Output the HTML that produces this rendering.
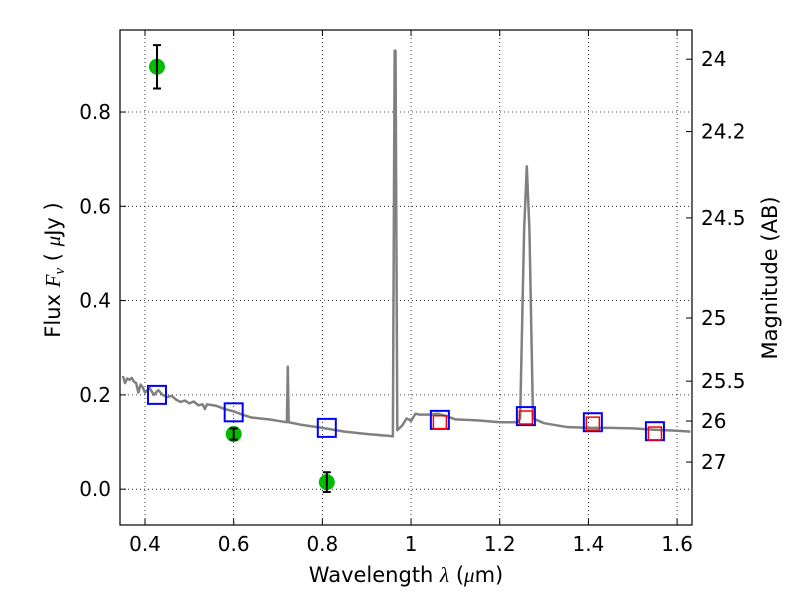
<!DOCTYPE html>
<html><head><meta charset="utf-8"><style>body{margin:0;background:#fff}svg{display:block}text{font-family:"DejaVu Sans","Liberation Sans",sans-serif;fill:#000}</style></head>
<body>
<svg id="chart" width="800" height="600"></svg>
<script>
const specWave=[0.35,0.355,0.36,0.365,0.37,0.375,0.38,0.385,0.39,0.395,0.40,0.405,0.41,0.42,0.43,0.44,0.45,0.46,0.47,0.48,0.49,0.50,0.51,0.52,0.53,0.535,0.54,0.56,0.58,0.60,0.62,0.64,0.66,0.68,0.70,0.72,0.722,0.724,0.75,0.80,0.85,0.90,0.95,0.959,0.963,0.965,0.969,0.98,0.99,1.0,1.01,1.02,1.04,1.06,1.08,1.10,1.15,1.20,1.24,1.246,1.255,1.261,1.267,1.275,1.30,1.35,1.40,1.45,1.50,1.55,1.60,1.63];
const specFlux=[0.240,0.225,0.235,0.232,0.236,0.228,0.225,0.205,0.222,0.216,0.205,0.21,0.215,0.20,0.21,0.20,0.195,0.198,0.19,0.185,0.188,0.182,0.186,0.178,0.18,0.17,0.18,0.177,0.17,0.165,0.158,0.152,0.15,0.148,0.145,0.142,0.26,0.142,0.137,0.13,0.122,0.117,0.113,0.112,0.93,0.93,0.125,0.135,0.15,0.145,0.16,0.158,0.158,0.16,0.155,0.148,0.146,0.142,0.142,0.15,0.55,0.685,0.55,0.15,0.14,0.132,0.13,0.13,0.129,0.126,0.124,0.122];
const modelWave=[0.427,0.6,0.81,1.065,1.259,1.41,1.55];
const modelFlux=[0.2,0.163,0.13,0.147,0.155,0.142,0.123];
const synthWave=[1.065,1.259,1.41,1.55];
const synthFlux=[0.142,0.152,0.139,0.118];
const obsWave=[0.427,0.6,0.81];
const obsFlux=[0.896,0.117,0.015];
const obsErr=[0.046,0.012,0.021];
const xTicks=[0.4,0.6,0.8,1.0,1.2,1.4,1.6];
const xTickLabels=["0.4","0.6","0.8","1","1.2","1.4","1.6"];
const yTicks=[0,0.2,0.4,0.6,0.8];
const yTickLabels=["0.0","0.2","0.4","0.6","0.8"];
const magTicks=[24,24.2,24.5,25,25.5,26,27];
const magTickLabels=["24","24.2","24.5","25","25.5","26","27"];

const L=120,R=692,T=30,B=525,X0=0.3436,X1=1.6336,Y0=-0.076,Y1=0.974;
const sx=v=>L+(v-X0)/(X1-X0)*(R-L), sy=v=>B-(v-Y0)/(Y1-Y0)*(B-T);
const svg=document.getElementById('chart'),NS='http://www.w3.org/2000/svg';
function mk(tag,attrs,parent){const e=document.createElementNS(NS,tag);for(const k in attrs)e.setAttribute(k,attrs[k]);(parent||svg).appendChild(e);return e;}
xTicks.forEach((v,i)=>{const l=mk('line',{x1:sx(v),x2:sx(v),y1:T,y2:B,stroke:'#000','stroke-dasharray':'1,3','stroke-width':0.8});

mk('line',{x1:sx(v),x2:sx(v),y1:B,y2:B-6,stroke:'#000'});mk('line',{x1:sx(v),x2:sx(v),y1:T,y2:T+6,stroke:'#000'});
const t=mk('text',{x:sx(v),y:B+26,'text-anchor':'middle','font-size':20});t.textContent=xTickLabels[i];
});
yTicks.forEach((v,i)=>{const l=mk('line',{x1:L,x2:R,y1:sy(v),y2:sy(v),stroke:'#000','stroke-dasharray':'1,3','stroke-width':0.8});

mk('line',{x1:L,x2:L+6,y1:sy(v),y2:sy(v),stroke:'#000'});
const t=mk('text',{x:L-9,y:sy(v)+7,'text-anchor':'end','font-size':20});t.textContent=yTickLabels[i];
});
magTicks.forEach((m,i)=>{const f=Math.pow(10,-0.4*(m-23.9));const y=sy(f);
mk('line',{x1:R,x2:R-6,y1:y,y2:y,stroke:'#000'});
const t=mk('text',{x:R+9,y:y+7,'font-size':20});t.textContent=magTickLabels[i];
});
const cp=mk('clipPath',{id:'c'});mk('rect',{x:L,y:T,width:R-L,height:B-T},cp);
const g=mk('g',{'clip-path':'url(#c)'});
const sp=mk('polyline',{points:specWave.map((w,i)=>sx(w)+','+sy(specFlux[i])).join(' '),fill:'none',stroke:'#808080','stroke-width':2.5,'stroke-linejoin':'round'},g);

modelWave.forEach((w,i)=>{const r=mk('rect',{x:sx(w)-9,y:sy(modelFlux[i])-9,width:18,height:18,fill:'none',stroke:'#0000ff','stroke-width':2},g);
});
synthWave.forEach((w,i)=>{const r=mk('rect',{x:sx(w)-6.5,y:sy(synthFlux[i])-6.5,width:13,height:13,fill:'none',stroke:'#ff0000','stroke-width':1.5},g);
});
obsWave.forEach((w,i)=>{const x=sx(w);
const c=mk('circle',{cx:x,cy:sy(obsFlux[i]),r:8,fill:'#00bb00'},g);

const y1=sy(obsFlux[i]+obsErr[i]),y2=sy(obsFlux[i]-obsErr[i]);
const e=mk('path',{d:`M${x},${y1}V${y2}M${x-4},${y1}H${x+4}M${x-4},${y2}H${x+4}`,stroke:'#000','stroke-width':2,fill:'none'},g);
});
const fr=mk('rect',{x:L,y:T,width:R-L,height:B-T,fill:'none',stroke:'#000','stroke-width':1.2});

const xt=mk('text',{x:406,y:582,'text-anchor':'middle','font-size':21});xt.innerHTML='Wavelength  <tspan font-style="italic" font-family="Liberation Serif">λ</tspan> (<tspan font-style="italic" font-family="Liberation Serif">μ</tspan>m)';

const yt=mk('text',{x:0,y:0,'text-anchor':'middle','font-size':21,transform:'translate(60,270) rotate(-90)'});yt.innerHTML='Flux  <tspan font-style="italic" font-family="Liberation Serif">F<tspan font-size="15" dy="4">ν</tspan></tspan><tspan dy="-4">  (  </tspan><tspan font-style="italic" font-family="Liberation Serif">μ</tspan>Jy )';

const rt=mk('text',{x:0,y:0,'text-anchor':'middle','font-size':21,transform:'translate(777,278) rotate(-90)'});rt.textContent='Magnitude (AB)';

</script>
</body></html>
